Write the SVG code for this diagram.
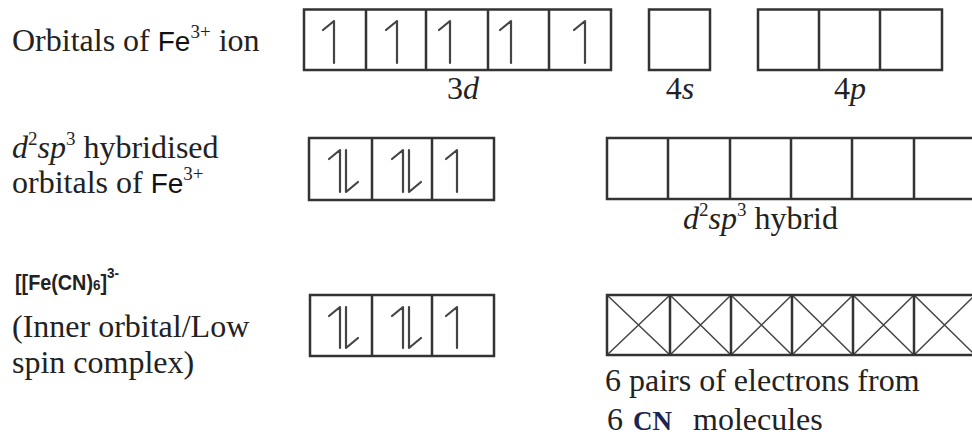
<svg xmlns="http://www.w3.org/2000/svg" width="972" height="437" viewBox="0 0 972 437">
<style>
.t{font-family:"Liberation Serif","Times New Roman",Times,serif;font-size:32px;fill:#222}
.i{font-style:italic}
.sup{font-size:19px}
.fe{font-family:"Liberation Sans",Arial,sans-serif;font-size:28px;fill:#111}
.cx{font-family:"Liberation Sans",Arial,sans-serif;font-weight:bold;fill:#222}
.box{fill:none;stroke:#333;stroke-width:2.5}
.ar{fill:none;stroke:#444;stroke-width:2.2;stroke-linecap:round;stroke-linejoin:round}
.x{stroke:#444;stroke-width:1.5}
</style>
<rect width="972" height="437" fill="#fff"/>

<g id="label-fe-ion">
<text class="t" x="12" y="51">Orbitals of <tspan class="fe">Fe</tspan><tspan class="sup" dy="-13">3+</tspan><tspan dy="13"> ion</tspan></text>
</g>

<g id="node-3d">
<rect class="box" x="304" y="9.5" width="307" height="60.5"/>
<path class="box" d="M366 9.5V70M426 9.5V70M488 9.5V70M549 9.5V70"/>
<path class="ar" d="M334 63V21L323 30M397 63V21L386 30M450 63V21L439 30M511 63V21L500 30M585 63V21L574 30"/>
<text class="t" x="463" y="99" text-anchor="middle"><tspan>3</tspan><tspan class="i">d</tspan></text>
</g>

<g id="node-4s">
<rect class="box" x="649" y="9.5" width="61" height="60.5"/>
<text class="t" x="680" y="99" text-anchor="middle"><tspan>4</tspan><tspan class="i">s</tspan></text>
</g>

<g id="node-4p">
<rect class="box" x="758" y="9.5" width="184" height="60.5"/>
<path class="box" d="M819 9.5V70M880 9.5V70"/>
<text class="t" x="850" y="99" text-anchor="middle"><tspan>4</tspan><tspan class="i">p</tspan></text>
</g>

<g id="label-hybridised">
<text class="t" x="12" y="158"><tspan class="i">d</tspan><tspan class="sup" dy="-13">2</tspan><tspan class="i" dy="13">sp</tspan><tspan class="sup" dy="-13">3</tspan><tspan dy="13"> hybridised</tspan></text>
<text class="t" x="12" y="193">orbitals of <tspan class="fe">Fe</tspan><tspan class="sup" dy="-13">3+</tspan></text>
</g>

<g id="node-3d-hybrid">
<rect class="box" x="309" y="138" width="185" height="62"/>
<path class="box" d="M372 138V200M432 138V200"/>
<path class="ar" d="M340 192V150L329 159M346 150V192L358 182M403 192V150L392 159M409 150V192L421 182M457 192V150L446 159"/>
</g>

<g id="node-d2sp3">
<rect class="box" x="607" y="138" width="370" height="61"/>
<path class="box" d="M668 138V199M730 138V199M791 138V199M852 138V199M914 138V199"/>
<text class="t" x="683" y="229"><tspan class="i">d</tspan><tspan class="sup" dy="-13">2</tspan><tspan class="i" dy="13">sp</tspan><tspan class="sup" dy="-13">3</tspan><tspan dy="13"> hybrid</tspan></text>
</g>

<g id="label-complex">
<g transform="translate(15,290) scale(0.9,1)">
<text class="cx" x="0" y="0" font-size="22">[[Fe(CN)<tspan font-size="15">6</tspan>]<tspan font-size="15" dy="-12">3-</tspan></text>
</g>
<text class="t" x="12" y="337">(Inner orbital/Low</text>
<text class="t" x="12" y="373">spin complex)</text>
</g>

<g id="node-3d-complex">
<rect class="box" x="310" y="295" width="184" height="61"/>
<path class="box" d="M372 295V356M432 295V356"/>
<path class="ar" d="M340 348V307L329 316M346 307V348L358 338M403 348V307L392 316M409 307V348L421 338M457 348V307L446 316"/>
</g>

<g id="node-cn-pairs">
<path class="x" d="M607 295L670 355M670 295L607 355M670 295L731 355M731 295L670 355M731 295L792 355M792 295L731 355M792 295L853 355M853 295L792 355M853 295L914 355M914 295L853 355M914 295L975 355M975 295L914 355"/>
<rect class="box" x="607" y="295" width="370" height="60"/>
<path class="box" d="M670 295V355M731 295V355M792 295V355M853 295V355M914 295V355"/>
<text class="t" x="605" y="391">6 pairs of electrons from</text>
<text class="t" x="607" y="430">6</text>
<text x="633" y="430" style="font-family:'Liberation Serif','Times New Roman',serif;font-size:27px;font-weight:bold;fill:#1c2550">CN</text>
<text class="t" x="693" y="430">molecules</text>
</g>
</svg>
